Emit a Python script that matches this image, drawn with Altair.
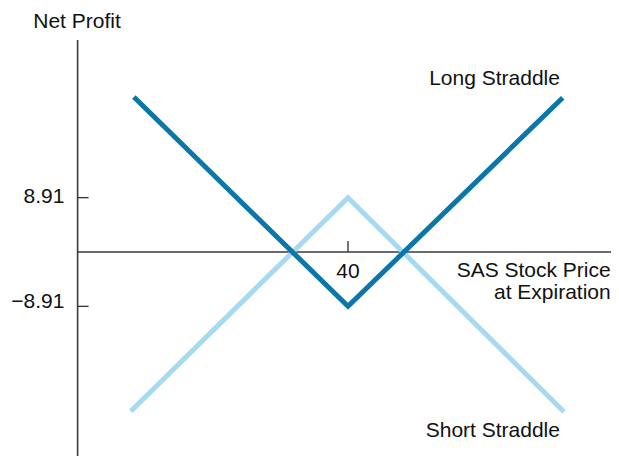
import altair as alt
import pandas as pd

# ---- data ----
price = [4.9, 40, 75.2]
long_profit = [25.4, -8.91, 25.3]
price_short = [4.4, 40, 75.4]
short_profit = [-26.1, 8.91, -26.2]
y_ticks = [8.91, -8.91]
y_tick_labels = ["8.91", "\u22128.91"]
x_ticks = [40]
x_tick_labels = ["40"]

# ---- layout ----
PX = 6.1                      # pixels per data unit on both axes
W, H = 534, 416               # plot area
PAD_L, PAD_T = 69, 32
X40 = 348 - 8 - PAD_L         # pixel (within plot) of price 40
Y0 = 252 - 8 - PAD_T          # pixel (within plot) of profit 0
XMIN = 40 - X40 / PX
XMAX = 40 + (W - X40) / PX
YMAX = Y0 / PX
YMIN = -(H - Y0) / PX
FONT = "Liberation Sans"
FS = 21
AXIS_COLOR = "#3a3a3a"
LONG_COLOR = "#0B77A8"
SHORT_COLOR = "#A8D9F2"


def X(f):
    return alt.X(f, type="quantitative", scale=alt.Scale(domain=[XMIN, XMAX], nice=False, zero=False), axis=None)


def Y(f):
    return alt.Y(f, type="quantitative", scale=alt.Scale(domain=[YMIN, YMAX], nice=False, zero=False), axis=None)


long_df = pd.DataFrame({"price": price, "profit": long_profit, "order": [0, 1, 2]})
short_df = pd.DataFrame({"price": price_short, "profit": short_profit, "order": [0, 1, 2]})

long_line = alt.Chart(long_df).mark_line(strokeWidth=5, strokeJoin="miter", strokeCap="butt",
                                         color=LONG_COLOR).encode(
    x=X("price"), y=Y("profit"), order="order:Q")
short_line = alt.Chart(short_df).mark_line(strokeWidth=5, strokeJoin="miter", strokeCap="butt",
                                           color=SHORT_COLOR).encode(
    x=X("price"), y=Y("profit"), order="order:Q")

yaxis_df = pd.DataFrame({"x": [XMIN + 0.1], "y": [YMIN], "y2": [YMAX]})
yaxis = alt.Chart(yaxis_df).mark_rule(color=AXIS_COLOR, strokeWidth=1.6).encode(
    x=X("x"), y=Y("y"), y2="y2:Q")
xaxis_df = pd.DataFrame({"x": [XMIN], "x2": [XMAX], "y": [0]})
xaxis = alt.Chart(xaxis_df).mark_rule(color=AXIS_COLOR, strokeWidth=1.6).encode(
    x=X("x"), x2="x2:Q", y=Y("y"))

ytick_df = pd.DataFrame({"y": y_ticks, "x": [XMIN] * 2, "x2": [XMIN + 1.9] * 2})
yticks = alt.Chart(ytick_df).mark_rule(color=AXIS_COLOR, strokeWidth=1.4).encode(
    x=X("x"), x2="x2:Q", y=Y("y"))
xtick_df = pd.DataFrame({"x": x_ticks, "y": [0.0], "y2": [1.8]})
xticks = alt.Chart(xtick_df).mark_rule(color=AXIS_COLOR, strokeWidth=1.4).encode(
    x=X("x"), y=Y("y"), y2="y2:Q")


def text_layer(df, align):
    return alt.Chart(df).mark_text(font=FONT, fontSize=FS, color="#111111",
                                   align=align, baseline="alphabetic").encode(
        x=X("x"), y=Y("y"), text="t:N")


ylab_df = pd.DataFrame({"x": [-6.5, -6.5], "y": [7.98, -9.23], "t": y_tick_labels})
xlab_df = pd.DataFrame({"x": x_ticks, "y": [-4.26], "t": x_tick_labels})
right_df = pd.DataFrame({
    "x": [XMAX - 0.05, XMAX - 0.05, 74.75, 74.75],
    "y": [-4.15, -7.7, 27.4, -30.3],
    "t": ["SAS Stock Price", "at Expiration", "Long Straddle", "Short Straddle"],
})
center_df = pd.DataFrame({"x": [XMIN], "y": [36.7], "t": ["Net Profit"]})

chart = alt.layer(
    yaxis, xaxis, yticks, xticks, short_line, long_line,
    text_layer(ylab_df, "right"),
    text_layer(xlab_df, "center"),
    text_layer(right_df, "right"),
    text_layer(center_df, "center"),
).properties(
    width=W, height=H,
    autosize=alt.AutoSizeParams(type="none"),
    padding={"left": PAD_L, "top": PAD_T, "right": 0, "bottom": 0},
    background="white",
).configure_view(stroke=None)

chart.save("out.html", embed_options={"renderer": "svg", "actions": False})
